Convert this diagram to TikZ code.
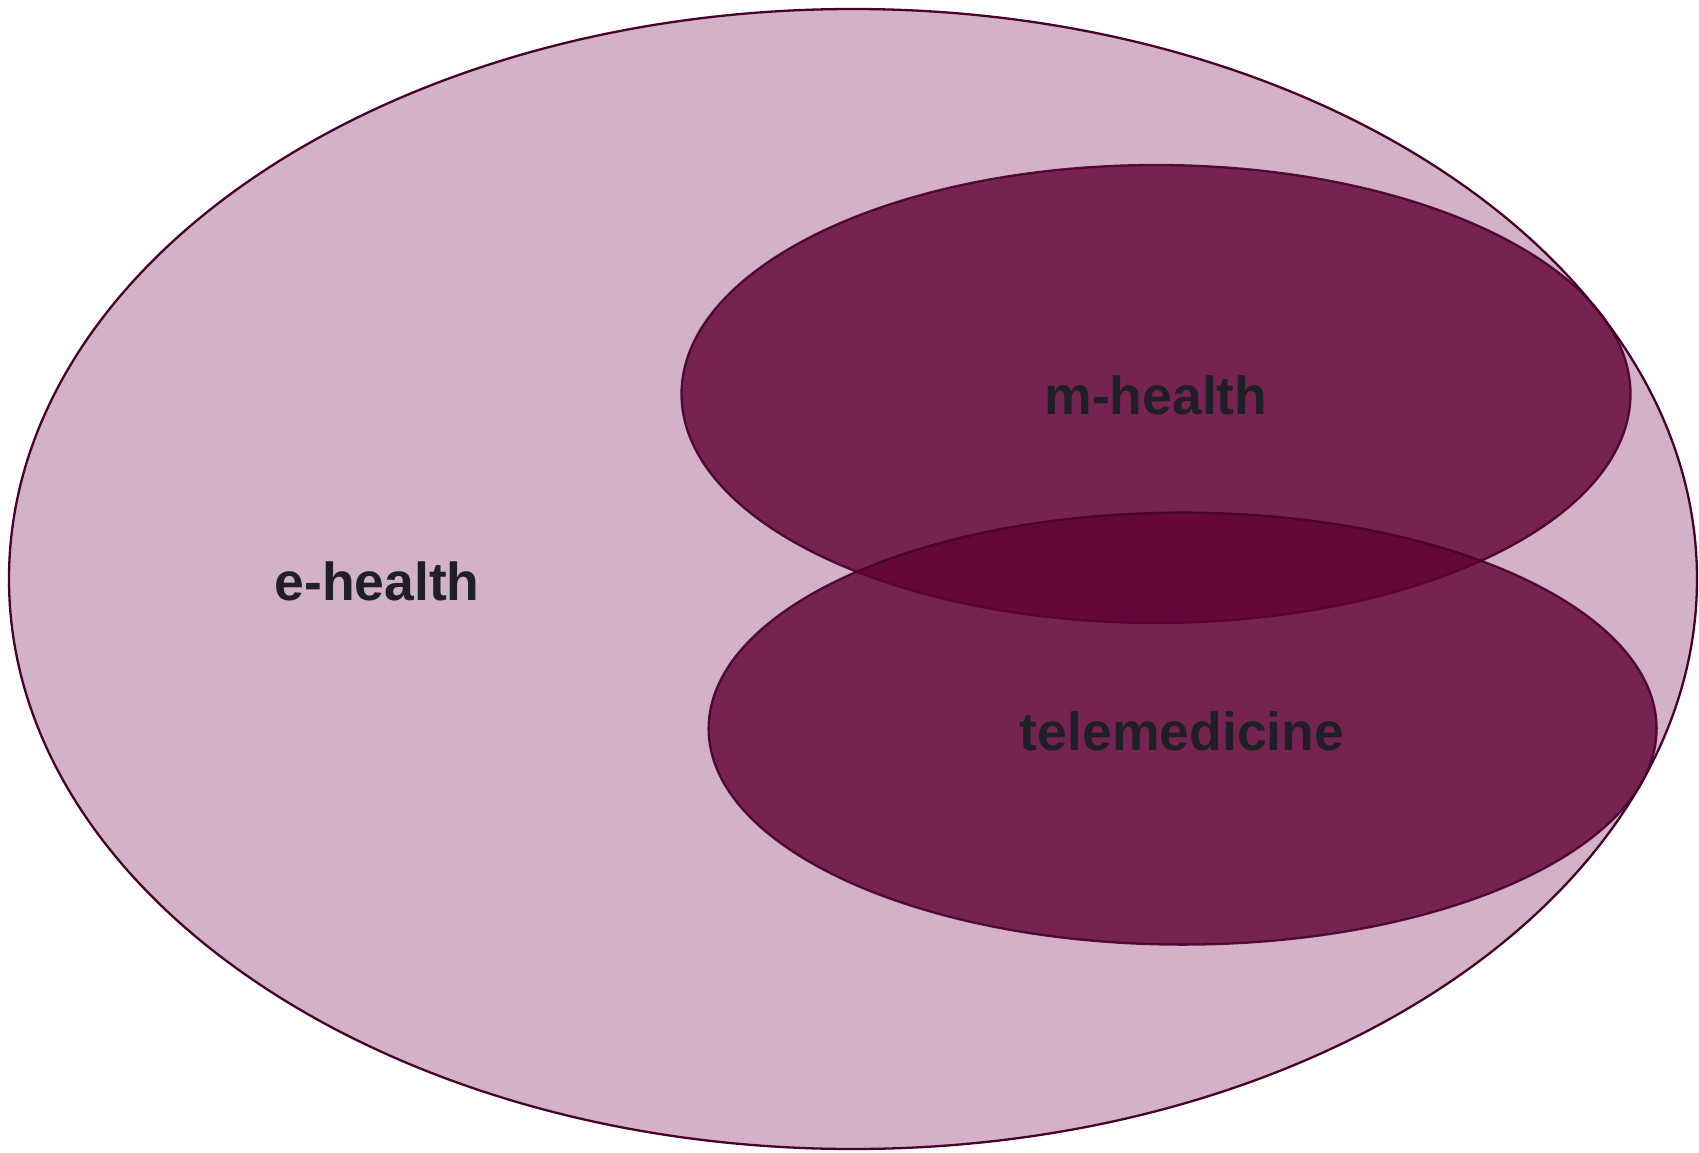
\documentclass[tikz,border=0pt]{standalone}
\usepackage{fontspec}
\setmainfont{Liberation Sans}
\definecolor{bigfill}{RGB}{211,177,198}
\definecolor{smallfill}{RGB}{96,0,54}
\definecolor{edge}{RGB}{72,0,45}
\definecolor{txt}{RGB}{30,32,38}
\begin{document}
\begin{tikzpicture}[x=1pt,y=-1pt,
  lbl/.style={anchor=base,text=txt,font=\fontsize{53.5}{60}\selectfont\bfseries,inner sep=0pt},
  outer/.style={fill=bigfill,draw=edge,line width=2.3pt},
  inner/.style={fill=smallfill,fill opacity=0.8,draw=edge,draw opacity=0.9,line width=2.3pt}]
\useasboundingbox (0,0) rectangle (1699,1153);
\draw[outer] (853,579) ellipse [x radius=844, y radius=570];
\draw[inner] (1156,394) ellipse [x radius=474.5, y radius=229];
\draw[inner] (1182.6,728.6) ellipse [x radius=474, y radius=216];
\node[lbl] (eh) at (377,600) {e-health};
\node[lbl] (mh) at (1156,414) {m-health};
\node[lbl] (tm) at (1182,750) {telemedicine};
\end{tikzpicture}
\end{document}
